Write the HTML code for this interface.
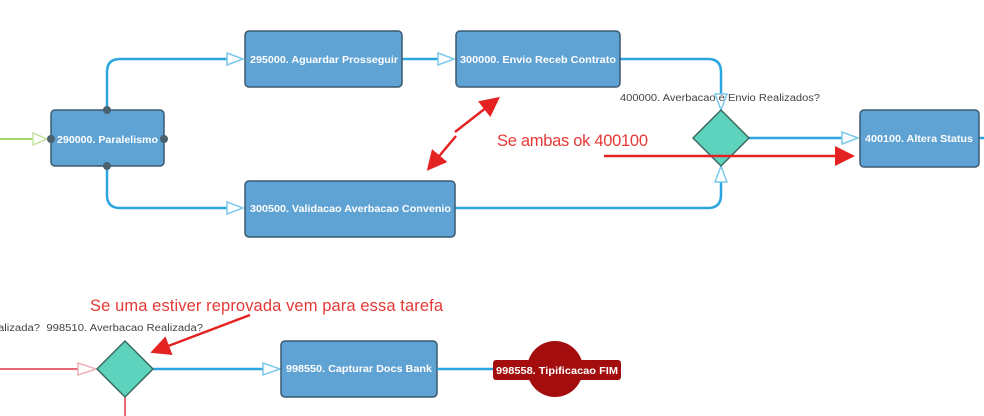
<!DOCTYPE html>
<html><head><meta charset="utf-8"><style>
body{margin:0;width:984px;height:416px;background:#fff;overflow:hidden}
svg{display:block}
.box{fill:#5fa2d4;stroke:#3c5a70;stroke-width:1.5}
.t{font-family:"Liberation Sans",sans-serif;font-size:10px;fill:#fff;font-weight:bold}
.l{font-family:"Liberation Sans",sans-serif;font-size:10px;fill:#444}
.r{font-family:"Liberation Sans",sans-serif;font-size:16.5px;fill:#e53935}
.c{fill:none;stroke:#2ba6e0;stroke-width:2.5}
.ah{fill:#fff;stroke:#7cc8ec;stroke-width:1.5}
</style></head><body>
<svg width="984" height="416" viewBox="0 0 984 416">
<defs><marker id="ra" markerWidth="8" markerHeight="8" refX="6" refY="4" orient="auto"><path d="M0,0 L8,4 L0,8 z" fill="#e52222"/></marker></defs>
<line x1="0" y1="139" x2="40" y2="139" stroke="#a6d46a" stroke-width="2"/>
<path class="ah" d="M33,133 L47,139 L33,145 z" style="stroke:#c5e3a0"/>
<path class="c" d="M107,110 V72 Q107,59 120,59 H235"/>
<path class="c" d="M107,166 V195 Q107,208 120,208 H235"/>
<path class="c" d="M402,59 H446"/>
<path class="c" d="M620,59 H708 Q721,59 721,72 V100"/>
<path class="c" d="M455,208 H708 Q721,208 721,195 V175"/>
<path class="c" d="M749,138 H850"/>
<path class="c" d="M979,138 H984"/>
<path class="ah" d="M227,53 L243,59 L227,65 z"/>
<path class="ah" d="M227,202 L243,208 L227,214 z"/>
<path class="ah" d="M438,53 L454,59 L438,65 z"/>
<path class="ah" d="M715,94 L721,110 L727,94 z"/>
<path class="ah" d="M715,182 L721,166 L727,182 z"/>
<path class="ah" d="M842,132 L858,138 L842,144 z"/>
<rect class="box" x="51" y="110" width="113" height="56" rx="4"/>
<text class="t" x="57" y="143" textLength="101" lengthAdjust="spacingAndGlyphs">290000. Paralelismo</text>
<circle cx="107" cy="110" r="4" fill="#4a6270"/><circle cx="107" cy="166" r="4" fill="#4a6270"/>
<circle cx="51" cy="139" r="4" fill="#4a6270"/><circle cx="164" cy="139" r="4" fill="#4a6270"/>
<rect class="box" x="245" y="31" width="157" height="56" rx="4"/>
<text class="t" x="250" y="63" textLength="148" lengthAdjust="spacingAndGlyphs">295000. Aguardar Prosseguir</text>
<rect class="box" x="456" y="31" width="164" height="56" rx="4"/>
<text class="t" x="460" y="63" textLength="156" lengthAdjust="spacingAndGlyphs">300000. Envio Receb Contrato</text>
<rect class="box" x="245" y="181" width="210" height="56" rx="4"/>
<text class="t" x="250" y="212" textLength="201" lengthAdjust="spacingAndGlyphs">300500. Validacao Averbacao Convenio</text>
<path d="M721,110 L749,138 L721,166 L693,138 z" fill="#5dd3bd" stroke="#3c6a60" stroke-width="1.5"/>
<text class="l" x="620" y="101" textLength="200" lengthAdjust="spacingAndGlyphs">400000. Averbacao e Envio Realizados?</text>
<rect class="box" x="860" y="110" width="119" height="57" rx="4"/>
<text class="t" x="865" y="142" textLength="108" lengthAdjust="spacingAndGlyphs">400100. Altera Status</text>
<text class="r" x="497" y="146" textLength="151">Se ambas ok 400100</text>
<line x1="604" y1="156" x2="850" y2="156" stroke="#e52222" stroke-width="2.5" marker-end="url(#ra)"/>
<line x1="455" y1="132" x2="496" y2="100" stroke="#e52222" stroke-width="2.5" marker-end="url(#ra)"/>
<line x1="456" y1="136" x2="430" y2="167" stroke="#e52222" stroke-width="2.5" marker-end="url(#ra)"/>
<!-- bottom -->
<line x1="0" y1="369" x2="88" y2="369" stroke="#e86a7a" stroke-width="2"/>
<path d="M78,363 L96,369 L78,375 z" fill="#fff" stroke="#eeb0b8" stroke-width="1.5"/>
<line x1="125" y1="397" x2="125" y2="416" stroke="#e86a7a" stroke-width="2"/>
<path class="c" d="M153,369 H272"/>
<path class="ah" d="M263,363 L280,369 L263,375 z"/>
<path d="M125,341 L153,369 L125,397 L97,369 z" fill="#5dd3bd" stroke="#3c6a60" stroke-width="1.5"/>
<text class="l" x="-2" y="331" textLength="205" lengthAdjust="spacingAndGlyphs">alizada?&#160; 998510. Averbacao Realizada?</text>
<text class="r" x="90" y="311" textLength="353">Se uma estiver reprovada vem para essa tarefa</text>
<line x1="250" y1="315" x2="155" y2="351" stroke="#e52222" stroke-width="2.5" marker-end="url(#ra)"/>
<rect class="box" x="281" y="341" width="156" height="56" rx="4"/>
<text class="t" x="286" y="372" textLength="146" lengthAdjust="spacingAndGlyphs">998550. Capturar Docs Bank</text>
<path class="c" d="M437,369 H494"/>
<circle cx="555" cy="369" r="28" fill="#a30d0d"/>
<rect x="493" y="360" width="128" height="20" rx="3" fill="#a30d0d"/>
<text class="t" x="496" y="374" textLength="122" lengthAdjust="spacingAndGlyphs">998558. Tipificacao FIM</text>
</svg>
</body></html>
